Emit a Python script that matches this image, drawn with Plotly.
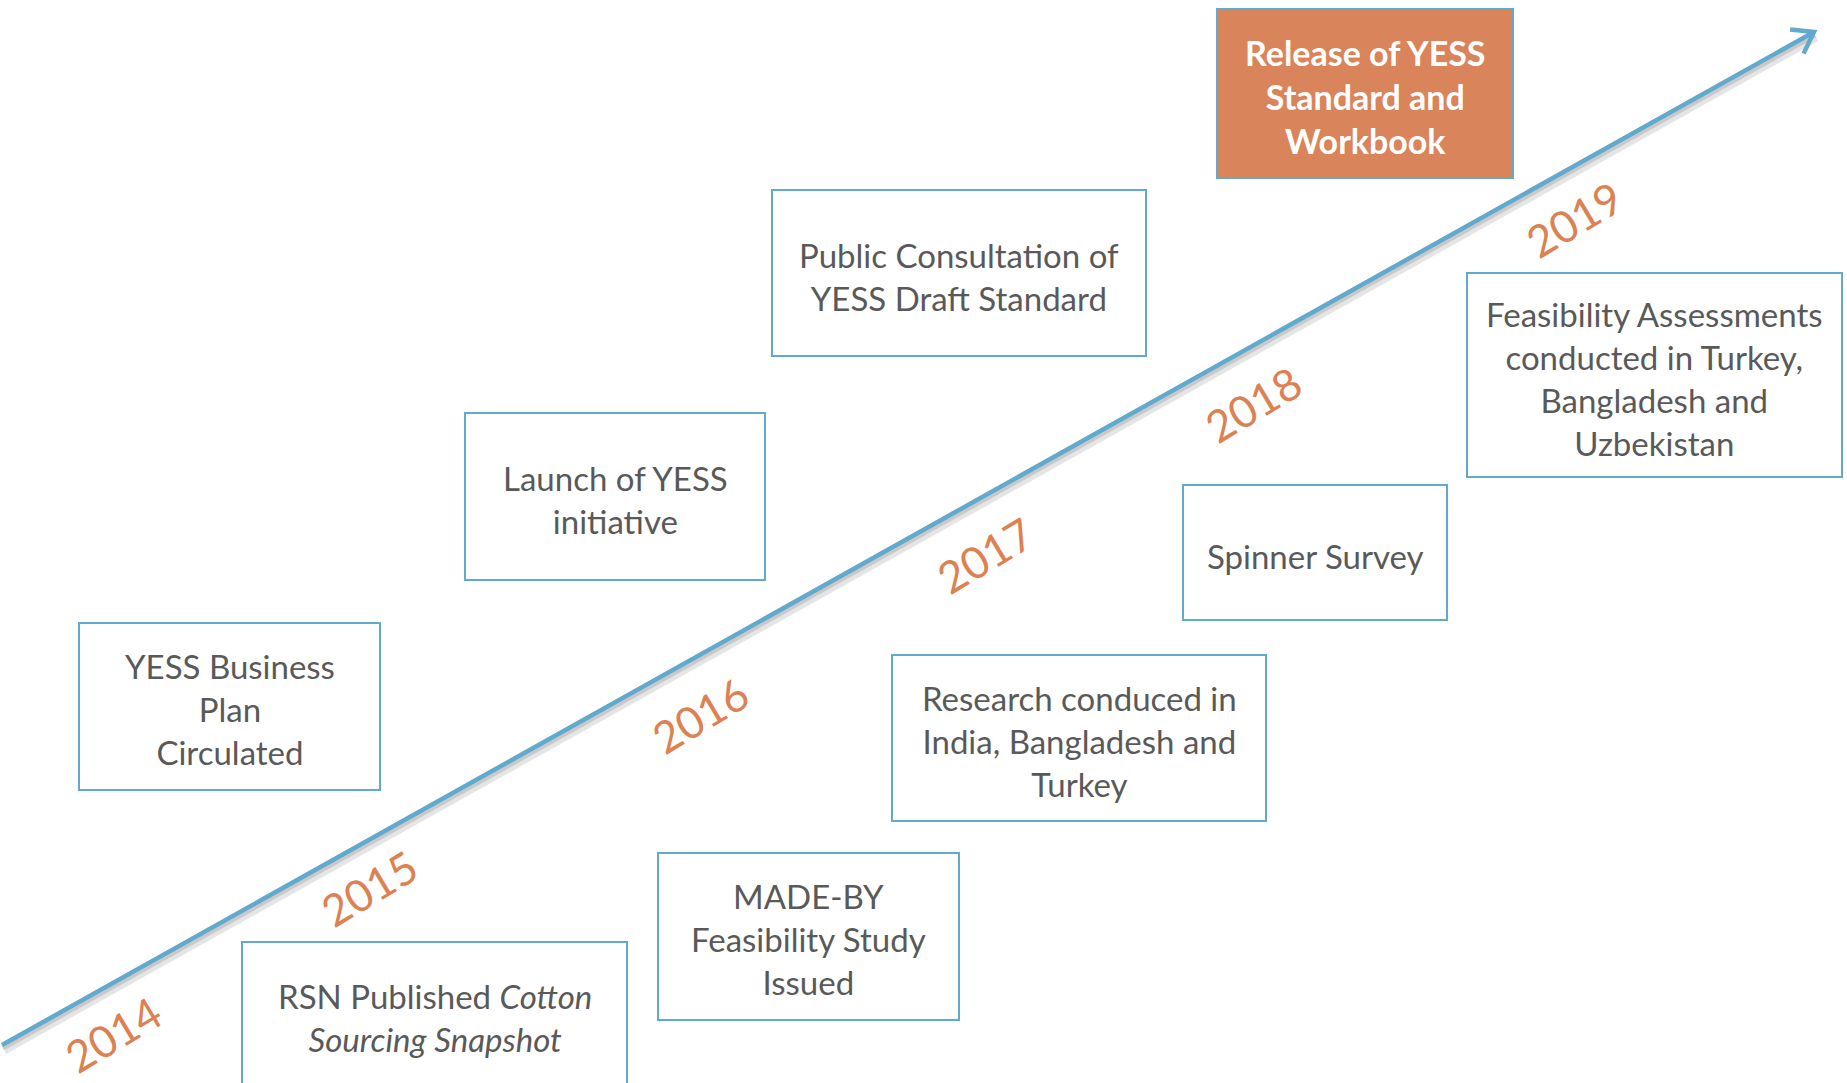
import numpy as np
import plotly.graph_objects as go

# ---- data ----
years = ["2014", "2015", "2016", "2017", "2018", "2019"]
events = [
    "YESS Business<br>Plan<br>Circulated",
    "RSN Published <i>Cotton</i><br><i>Sourcing Snapshot</i>",
    "Launch of YESS<br>initiative",
    "MADE-BY<br>Feasibility Study<br>Issued",
    "Public Consultation of<br>YESS Draft Standard",
    "Research conduced in<br>India, Bangladesh and<br>Turkey",
    "Spinner Survey",
    "<b>Release of YESS<br>Standard and<br>Workbook</b>",
    "Feasibility Assessments<br>conducted in Turkey,<br>Bangladesh and<br>Uzbekistan",
]
highlight = [False, False, False, False, False, False, False, True, False]

# ---- layout (pixel positions of the diagram) ----
W, H = 1847, 1083
box_x0 = [79, 242, 465, 658, 772, 892, 1183, 1217, 1467]
box_x1 = [380, 627, 765, 959, 1146, 1266, 1447, 1513, 1842]
box_y0 = [623, 942, 413, 853, 190, 655, 485, 9, 273]
box_y1 = [790, 1110, 580, 1020, 356, 821, 620, 178, 477]
text_y = [709, 1017, 499, 939, 276, 741, 556, 96, 378]

year_x = [113, 369, 700, 985, 1253, 1574]
year_y = [1034, 888, 715, 555, 404, 219]

arrow_start = (2, 1045)
arrow_end = (1814, 32)

BLUE = "#62A9CE"
ORANGE = "#DC8252"
FILL = "#D9845A"
GREY = "#595959"
FONT = "Lato"

fig = go.Figure()

# arrow shadow
sx = np.array([arrow_start[0], arrow_end[0]], dtype=float)
sy = np.array([arrow_start[1], arrow_end[1]], dtype=float)
fig.add_trace(go.Scatter(x=sx + 2, y=sy + 5, mode="lines",
                         line=dict(color="rgba(0,0,0,0.10)", width=9),
                         hoverinfo="skip", showlegend=False))
fig.add_trace(go.Scatter(x=sx + 1, y=sy + 3, mode="lines",
                         line=dict(color="rgba(0,0,0,0.12)", width=5),
                         hoverinfo="skip", showlegend=False))
# arrow line
fig.add_trace(go.Scatter(x=sx, y=sy, mode="lines",
                         line=dict(color=BLUE, width=4.5),
                         hoverinfo="skip", showlegend=False))
# chevron head
d = np.array([sx[1] - sx[0], sy[1] - sy[0]])
u = d / np.linalg.norm(d)
L = 24
ang = np.deg2rad(35)
def rot(v, a):
    return np.array([v[0] * np.cos(a) - v[1] * np.sin(a), v[0] * np.sin(a) + v[1] * np.cos(a)])
p1 = np.array(arrow_end) - L * rot(u, ang)
p2 = np.array(arrow_end) - L * rot(u, -ang)
fig.add_trace(go.Scatter(x=[p1[0], arrow_end[0], p2[0]], y=[p1[1], arrow_end[1], p2[1]],
                         mode="lines", line=dict(color=BLUE, width=4.5),
                         hoverinfo="skip", showlegend=False))

shapes = []
annotations = []
for i, ev in enumerate(events):
    shapes.append(dict(type="rect", xref="x", yref="y",
                       x0=box_x0[i], x1=box_x1[i], y0=box_y0[i], y1=box_y1[i],
                       line=dict(color=BLUE, width=2),
                       fillcolor=FILL if highlight[i] else "white", layer="above"))
    annotations.append(dict(x=(box_x0[i] + box_x1[i]) / 2, y=text_y[i], xref="x", yref="y",
                            text=ev, showarrow=False,
                            font=dict(family=FONT, size=34 if highlight[i] else 33,
                                      color="white" if highlight[i] else GREY),
                            align="center", xanchor="center", yanchor="middle"))

for i, yr in enumerate(years):
    annotations.append(dict(x=year_x[i], y=year_y[i], xref="x", yref="y", text=yr,
                            showarrow=False, textangle=-31,
                            font=dict(family=FONT, size=44, color=ORANGE),
                            xanchor="center", yanchor="middle"))

fig.update_layout(
    width=W, height=H, margin=dict(l=0, r=0, t=0, b=0),
    paper_bgcolor="white", plot_bgcolor="white",
    xaxis=dict(range=[0, W], visible=False, fixedrange=True),
    yaxis=dict(range=[H, 0], visible=False, fixedrange=True),
    shapes=shapes, annotations=annotations, showlegend=False,
)

fig.write_html("out.html", config={"displayModeBar": False},
               post_script="document.body.style.margin='0';document.body.style.overflow='hidden';")
